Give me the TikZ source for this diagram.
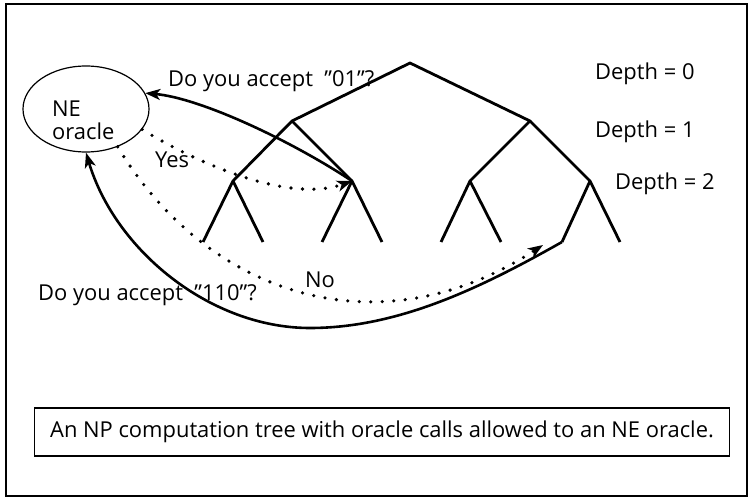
\documentclass[tikz,border=0pt]{standalone}
\usepackage{fontspec}
\setmainfont{Open Sans}
\usetikzlibrary{arrows.meta,shapes.geometric}

\begin{document}
\begin{tikzpicture}[x=1bp,y=-1bp,
    edge/.style={line width=2.8bp, line join=round},
    call/.style={line width=2.6bp, -{Stealth[length=15bp,width=11bp,inset=4bp]}},
    answer/.style={line width=3.6bp, line cap=round, dash pattern=on 0bp off 11.5bp,
      -{Stealth[length=15bp,width=11bp,inset=4bp]}},
    lbl/.style={font=\fontsize{22}{26}\selectfont, inner sep=0pt}]

  \useasboundingbox (0,0) rectangle (749,502);
  \draw [line width=1.2bp] (6,4) rectangle (747,496);

  % computation tree, depth 0 to 3
  \coordinate (r) at (410,63);
  \coordinate (a) at (292,121);
  \coordinate (b) at (530,121);
  \coordinate (aa) at (233,181);
  \coordinate (ab) at (352,181);
  \coordinate (ba) at (470,181);
  \coordinate (bb) at (590,181);
  \foreach \x [count=\i] in {203,263,322,382,441,501,562,620}
    \coordinate (l\i) at (\x,242);

  \draw [edge] (aa) -- (a) -- (r) -- (b) -- (ba);
  \draw [edge] (a) -- (ab);
  \draw [edge] (b) -- (bb);
  \foreach \p/\u/\v in {aa/1/2, ab/3/4, ba/5/6, bb/7/8}
    \draw [edge] (l\u) -- (\p) -- (l\v);

  \node [lbl, anchor=base west] (d0) at (595,80) {Depth = 0};
  \node [lbl, anchor=base west] (d1) at (595,138) {Depth = 1};
  \node [lbl, anchor=base west] (d2) at (615,190) {Depth = 2};

  % the oracle
  \node [draw, ellipse, line width=1.2bp, minimum width=126bp, minimum height=86bp,
    inner sep=0pt] (oracle) at (86,109) {};
  \node [lbl, anchor=base west] (ne) at (52,117) {NE};
  \node [lbl, anchor=base west] (orc) at (52,140) {oracle};

  % queries and answers
  \coordinate (noend) at (543,245);
  \draw [call] (ab) .. controls (290,140) and (200,98) .. (oracle.15);
  \draw [answer] (oracle.-20) .. controls (200,165) and (290,203) .. (ab);
  \draw [answer] (oracle.-50) .. controls (205,292) and (375,354) .. (noend);
  \draw [call] (l7) .. controls (484,286) and (400,328) .. (310,328)
    .. controls (210,328) and (115,250) .. (oracle.south);

  \node [lbl, anchor=base west] (q1) at (168,87) {Do you accept \ ”01”?};
  \node [lbl, anchor=base west] (yes) at (155,168) {Yes};
  \node [lbl, anchor=base west] (no) at (305,288) {No};
  \node [lbl, anchor=base west] (q2) at (38,300) {Do you accept \ ”110”?};

  \node [draw, line width=1.2bp, minimum width=695bp, minimum height=48bp,
    font=\fontsize{22}{26}\selectfont] (caption) at (382,432)
    {An NP computation tree with oracle calls allowed to an NE oracle.};
\end{tikzpicture}
\end{document}
